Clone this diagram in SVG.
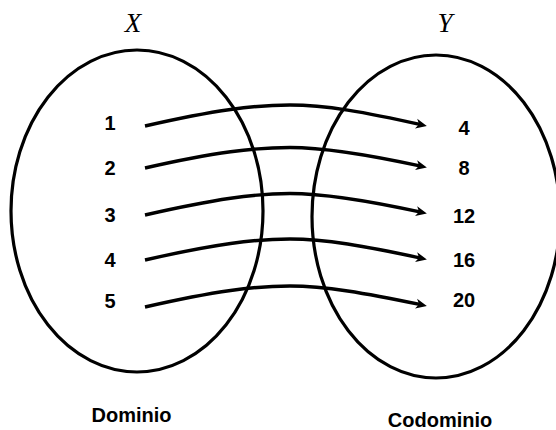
<svg xmlns="http://www.w3.org/2000/svg" width="556" height="430" viewBox="0 0 556 430">
<style>
.set{fill:none;stroke:#000;stroke-width:3.2}
.num{font-family:"Liberation Sans",Arial,sans-serif;font-weight:bold;font-size:20px;fill:#000;text-anchor:middle}
.var{font-family:"Liberation Serif","Times New Roman",serif;font-style:italic;font-size:27px;fill:#000;text-anchor:middle}
.lbl{font-family:"Liberation Sans",Arial,sans-serif;font-weight:bold;font-size:20px;fill:#000;text-anchor:middle}
.arr{fill:none;stroke:#000;stroke-width:3.4;marker-end:url(#ah)}
</style>
<defs>
<marker id="ah" markerUnits="userSpaceOnUse" markerWidth="14" markerHeight="12" refX="5" refY="5" orient="auto" viewBox="0 0 14 10">
<path d="M0,0 L11,5 L0,10 L3,5 z" fill="#000"/>
</marker>
</defs>
<g id="setX">
<ellipse class="set" cx="137" cy="211" rx="126" ry="161"/>
<text class="var" x="133" y="32">X</text>
<text class="lbl" x="131.5" y="422">Dominio</text>
</g>
<g id="setY">
<ellipse class="set" cx="436" cy="216.5" rx="124" ry="161.5"/>
<text class="var" x="445" y="32">Y</text>
<text class="lbl" x="440" y="427">Codominio</text>
</g>
<g id="domain">
<text class="num" x="110" y="130">1</text>
<text class="num" x="110" y="175">2</text>
<text class="num" x="110" y="222">3</text>
<text class="num" x="110" y="267">4</text>
<text class="num" x="110" y="308">5</text>
</g>
<g id="codomain">
<text class="num" x="464" y="135">4</text>
<text class="num" x="464" y="175">8</text>
<text class="num" x="464" y="223">12</text>
<text class="num" x="464" y="267">16</text>
<text class="num" x="464" y="307">20</text>
</g>
<g id="connectors">
<path class="arr" d="M145,126 C215,110 255,105 290,105 C325,105 365,112 421,124.7"/>
<path class="arr" d="M145,168 C215,152 255,147.5 290,147.5 C325,147.5 365,154 421,166.2"/>
<path class="arr" d="M145,215 C215,199 255,193.5 290,193.5 C325,193.5 365,200 421,212.2"/>
<path class="arr" d="M145,260 C215,244 255,239 290,239 C325,239 365,246 421,258.2"/>
<path class="arr" d="M145,307 C215,291 255,286 290,286 C325,286 365,293 421,304.7"/>
</g>
</svg>
